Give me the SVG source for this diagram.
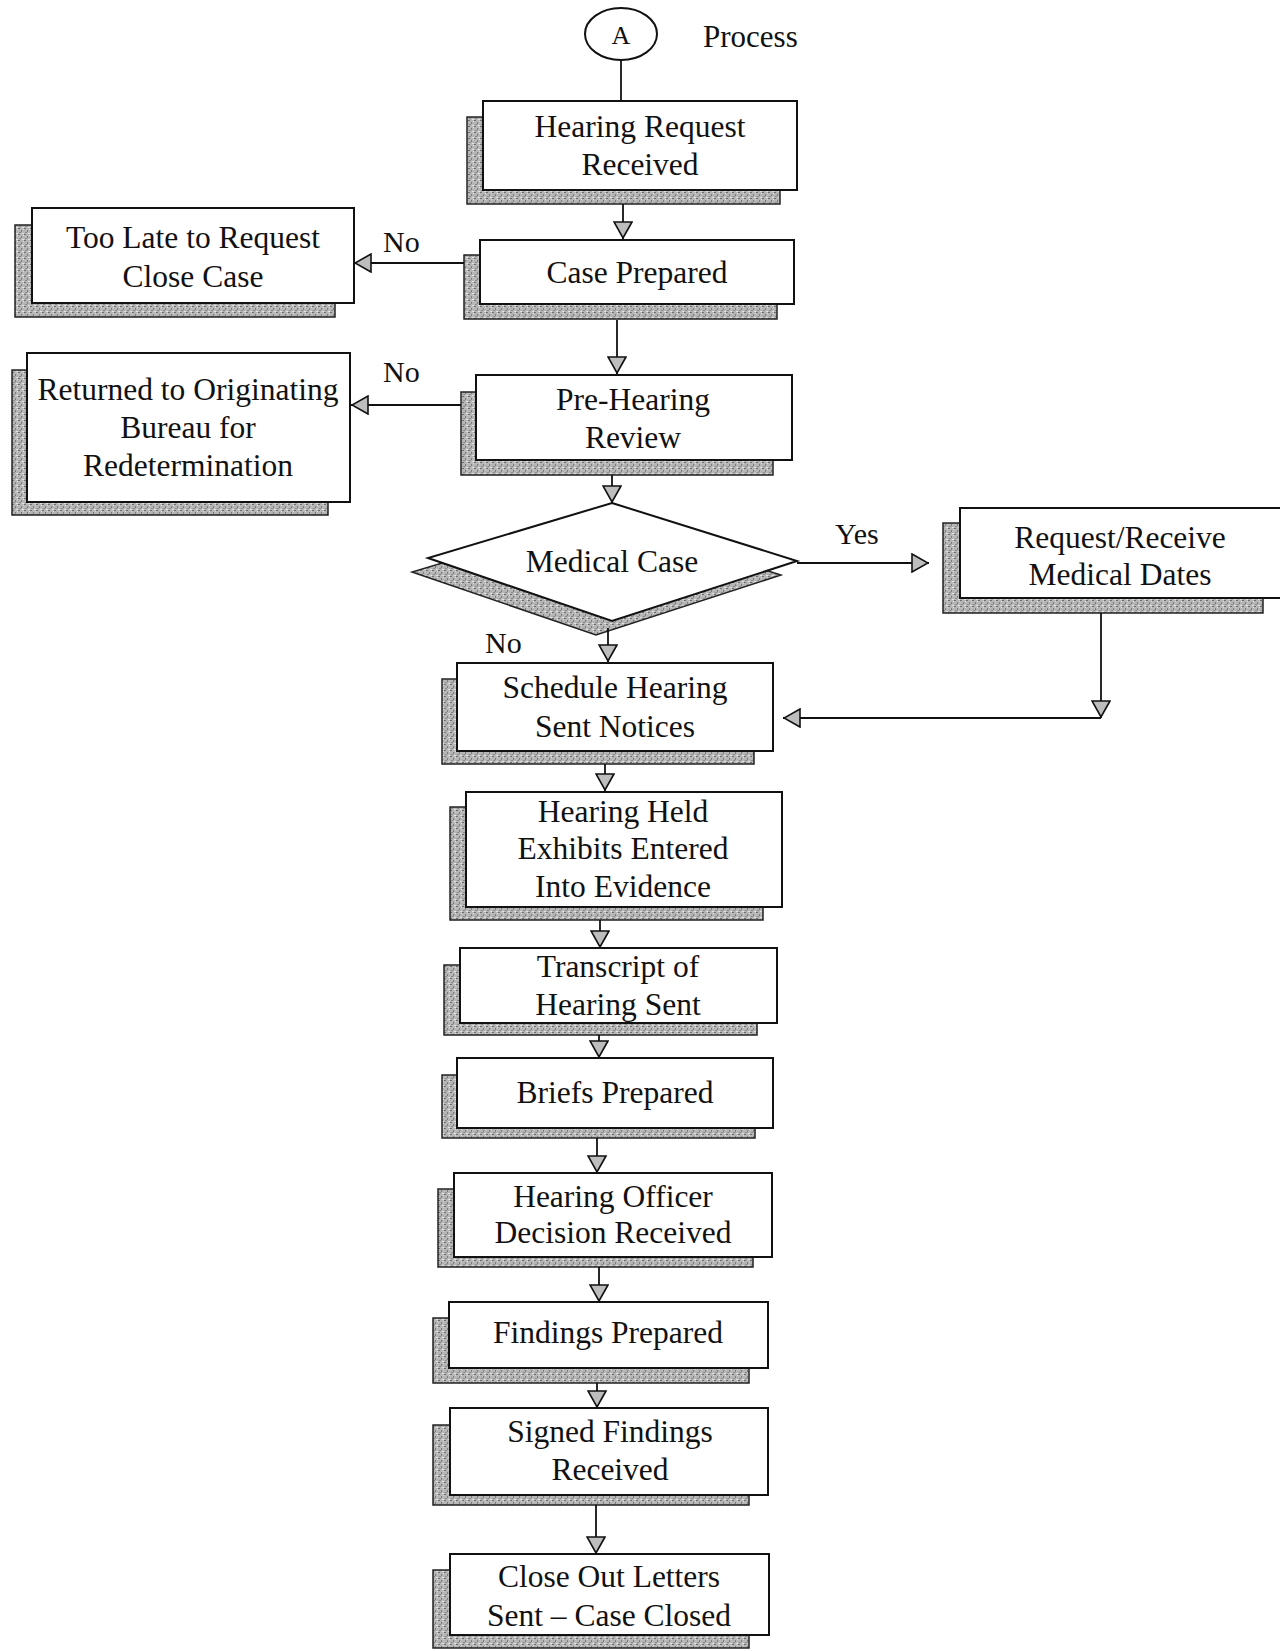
<svg xmlns="http://www.w3.org/2000/svg" width="1280" height="1651" viewBox="0 0 1280 1651">
<defs>
<pattern id="tex" width="6" height="6" patternUnits="userSpaceOnUse">
<rect width="6" height="6" fill="#b6b6b6"/>
<rect x="0" y="0" width="2" height="1" fill="#6e6e6e"/>
<rect x="3" y="2" width="1" height="2" fill="#7c7c7c"/>
<rect x="1" y="4" width="2" height="1" fill="#8a8a8a"/>
<rect x="4" y="5" width="2" height="1" fill="#e2e2e2"/>
<rect x="5" y="1" width="1" height="1" fill="#dcdcdc"/>
</pattern>
<marker id="arr" viewBox="0 0 18 20" refX="18" refY="10" markerWidth="18" markerHeight="20" markerUnits="userSpaceOnUse" orient="auto">
<path d="M1,1 L17,10 L1,19 Z" fill="#bdbdbd" stroke="#111" stroke-width="1.6"/>
</marker>
</defs>
<style>
.sh{fill:url(#tex);stroke:#222;stroke-width:1.5}
.bx{fill:#fff;stroke:#111;stroke-width:2}
.t{font-family:"Liberation Serif","Times New Roman",serif;font-size:31.5px;fill:#111;text-anchor:middle}
.l{font-family:"Liberation Serif","Times New Roman",serif;font-size:30px;fill:#111}
.c{fill:none;stroke:#111;stroke-width:1.8}
.ca{fill:none;stroke:#111;stroke-width:1.8;marker-end:url(#arr)}
</style>
<rect width="1280" height="1651" fill="#fff"/>

<g id="start">
<ellipse cx="621" cy="34" rx="36" ry="26" fill="#fff" stroke="#111" stroke-width="2"/>
<text x="621" y="44" class="t" style="font-size:26px">A</text>
</g>
<g id="title">
<text x="703" y="47" class="l" style="font-size:31px">Process</text>
</g>

<g id="hearing-request">
<rect x="467" y="117" width="313" height="87" class="sh"/>
<rect x="483" y="101" width="314" height="89" class="bx"/>
<text x="640" y="137" class="t">Hearing Request</text>
<text x="640" y="175" class="t">Received</text>
</g>

<g id="case-prepared">
<rect x="464" y="255" width="313" height="64" class="sh"/>
<rect x="480" y="240" width="314" height="64" class="bx"/>
<text x="637" y="283" class="t">Case Prepared</text>
</g>

<g id="too-late">
<rect x="15" y="225" width="320" height="92" class="sh"/>
<rect x="32" y="208" width="322" height="95" class="bx"/>
<text x="193" y="248" class="t">Too Late to Request</text>
<text x="193" y="287" class="t">Close Case</text>
</g>

<g id="pre-hearing">
<rect x="461" y="392" width="312" height="83" class="sh"/>
<rect x="476" y="375" width="316" height="85" class="bx"/>
<text x="633" y="410" class="t">Pre-Hearing</text>
<text x="633" y="448" class="t">Review</text>
</g>

<g id="returned">
<rect x="12" y="370" width="316" height="145" class="sh"/>
<rect x="27" y="353" width="323" height="149" class="bx"/>
<text x="188" y="400" class="t">Returned to Originating</text>
<text x="188" y="438" class="t">Bureau for</text>
<text x="188" y="476" class="t">Redetermination</text>
</g>

<g id="medical-case">
<polygon points="596,517 781,575 596,635 412,572" class="sh"/>
<polygon points="612,503 797,561 612,621 428,558" class="bx"/>
<text x="612" y="572" class="t">Medical Case</text>
</g>

<g id="request-receive">
<rect x="943" y="523" width="320" height="90" class="sh"/>
<rect x="960" y="508" width="330" height="90" class="bx"/>
<text x="1120" y="548" class="t">Request/Receive</text>
<text x="1120" y="585" class="t">Medical Dates</text>
</g>

<g id="schedule-hearing">
<rect x="442" y="679" width="312" height="85" class="sh"/>
<rect x="457" y="663" width="316" height="88" class="bx"/>
<text x="615" y="698" class="t">Schedule Hearing</text>
<text x="615" y="737" class="t">Sent Notices</text>
</g>

<g id="hearing-held">
<rect x="450" y="807" width="313" height="113" class="sh"/>
<rect x="466" y="792" width="316" height="115" class="bx"/>
<text x="623" y="822" class="t">Hearing Held</text>
<text x="623" y="859" class="t">Exhibits Entered</text>
<text x="623" y="897" class="t">Into Evidence</text>
</g>

<g id="transcript">
<rect x="444" y="965" width="313" height="70" class="sh"/>
<rect x="460" y="948" width="317" height="75" class="bx"/>
<text x="618" y="977" class="t">Transcript of</text>
<text x="618" y="1015" class="t">Hearing Sent</text>
</g>

<g id="briefs">
<rect x="442" y="1075" width="313" height="63" class="sh"/>
<rect x="457" y="1058" width="316" height="70" class="bx"/>
<text x="615" y="1103" class="t">Briefs Prepared</text>
</g>

<g id="officer-decision">
<rect x="438" y="1189" width="315" height="78" class="sh"/>
<rect x="454" y="1173" width="318" height="84" class="bx"/>
<text x="613" y="1207" class="t">Hearing Officer</text>
<text x="613" y="1243" class="t">Decision Received</text>
</g>

<g id="findings">
<rect x="433" y="1318" width="316" height="65" class="sh"/>
<rect x="449" y="1302" width="319" height="66" class="bx"/>
<text x="608" y="1343" class="t">Findings Prepared</text>
</g>

<g id="signed-findings">
<rect x="433" y="1425" width="316" height="80" class="sh"/>
<rect x="450" y="1408" width="318" height="87" class="bx"/>
<text x="610" y="1442" class="t">Signed Findings</text>
<text x="610" y="1480" class="t">Received</text>
</g>

<g id="close-out">
<rect x="433" y="1570" width="316" height="78" class="sh"/>
<rect x="450" y="1554" width="319" height="81" class="bx"/>
<text x="609" y="1587" class="t">Close Out Letters</text>
<text x="609" y="1626" class="t">Sent – Case Closed</text>
</g>

<g id="connectors">
<path d="M621,60 V101" class="c"/>
<path d="M623,204 V239" class="ca"/>
<path d="M464,263 H354" class="ca"/>
<path d="M617,320 V374" class="ca"/>
<path d="M461,405 H351" class="ca"/>
<path d="M612,475 V503" class="ca"/>
<path d="M797,563 H929" class="ca"/>
<path d="M608,628 V662" class="ca"/>
<path d="M1101,613 V718" class="ca"/>
<path d="M1101,718 H783" class="ca"/>
<path d="M605,764 V791" class="ca"/>
<path d="M600,920 V948" class="ca"/>
<path d="M599,1035 V1058" class="ca"/>
<path d="M597,1138 V1173" class="ca"/>
<path d="M599,1267 V1302" class="ca"/>
<path d="M597,1383 V1408" class="ca"/>
<path d="M596,1505 V1554" class="ca"/>
</g>

<g id="labels">
<text x="383" y="252" class="l">No</text>
<text x="383" y="382" class="l">No</text>
<text x="485" y="653" class="l">No</text>
<text x="835" y="544" class="l">Yes</text>
</g>
</svg>
